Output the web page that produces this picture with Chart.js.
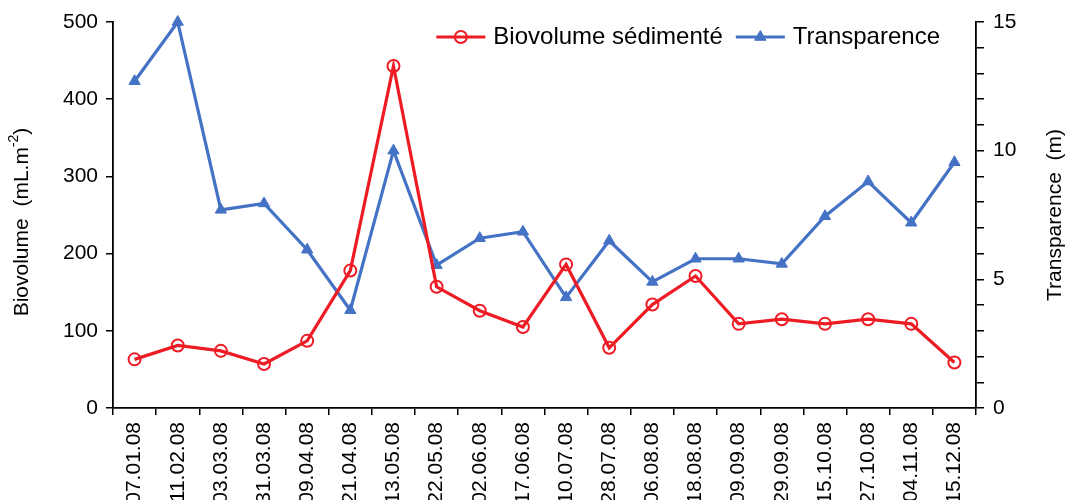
<!DOCTYPE html>
<html>
<head>
<meta charset="utf-8">
<script src="https://cdn.jsdelivr.net/npm/chart.js@4.4.1/dist/chart.umd.min.js"></script>
<style>
  html, body { margin: 0; padding: 0; background: #ffffff; }
  #wrap { width: 1069px; height: 500px; }
</style>
</head>
<body>
<div id="wrap"><canvas id="chart" width="1069" height="500"></canvas></div>
<script>
// Sampling dates (dd.mm.yy)
const dates = ['07.01.08', '11.02.08', '03.03.08', '31.03.08', '09.04.08', '21.04.08', '13.05.08',
  '22.05.08', '02.06.08', '17.06.08', '10.07.08', '28.07.08', '06.08.08', '18.08.08', '09.09.08',
  '29.09.08', '15.10.08', '27.10.08', '04.11.08', '15.12.08'];

// Settled biovolume (mL.m-2)
const biovolume = [63, 81, 74, 57, 87, 178, 443, 157, 126, 105, 186, 78, 134, 171, 109, 115, 109, 115, 109, 59];

// Water transparency (m)
const transparence = [12.7, 15, 7.7, 7.95, 6.15, 3.8, 10, 5.55, 6.6, 6.85, 4.3, 6.5, 4.9, 5.8, 5.8, 5.6, 7.45, 8.8, 7.2, 9.55];

// Axis ticks
const biovolumeTicks = [0, 100, 200, 300, 400, 500];
const transparenceMinorTicks = [0, 1, 2, 3, 4, 5, 6, 7, 8, 9, 10, 11, 12, 13, 14, 15];
const transparenceLabels = [0, 5, 10, 15];

const seriesNames = ['Biovolume sédimenté', 'Transparence'];
const axisTitles = { left: 'Biovolume  (mL.m', leftSup: '-2', leftEnd: ')', right: 'Transparence  (m)' };

const RED = '#ED1C24';
const BLUE = '#4472C4';
const FONT = '"Liberation Sans", Arial, Helvetica, sans-serif';

Chart.defaults.font.family = FONT;
Chart.defaults.color = '#000000';

// Axis titles (rotated, reading bottom-to-top) and the legend inside the plot
const decorations = {
  id: 'decorations',
  afterDraw(chart) {
    const ctx = chart.ctx;
    const area = chart.chartArea;
    const midY = (area.top + area.bottom) / 2;

    // Left axis title with superscript exponent
    ctx.save();
    ctx.fillStyle = '#000';
    ctx.textBaseline = 'middle';
    const mainFont = '21px ' + FONT;
    const supFont = '14px ' + FONT;
    ctx.font = mainFont;
    const w1 = ctx.measureText(axisTitles.left).width;
    const w3 = ctx.measureText(axisTitles.leftEnd).width;
    ctx.font = supFont;
    const w2 = ctx.measureText(axisTitles.leftSup).width;
    const total = w1 + w2 + w3;
    ctx.translate(22, midY + 7);
    ctx.rotate(-Math.PI / 2);
    let x = -total / 2;
    ctx.textAlign = 'left';
    ctx.font = mainFont;
    ctx.fillText(axisTitles.left, x, 0);
    x += w1;
    ctx.font = supFont;
    ctx.fillText(axisTitles.leftSup, x, -8);
    x += w2;
    ctx.font = mainFont;
    ctx.fillText(axisTitles.leftEnd, x, 0);
    ctx.restore();

    // Right axis title
    ctx.save();
    ctx.fillStyle = '#000';
    ctx.font = mainFont;
    ctx.textAlign = 'center';
    ctx.textBaseline = 'middle';
    ctx.translate(1055, midY);
    ctx.rotate(-Math.PI / 2);
    ctx.fillText(axisTitles.right, 0, 0);
    ctx.restore();

    // Legend: line sample + marker + label for each series
    ctx.save();
    ctx.font = '24px ' + FONT;
    ctx.textBaseline = 'middle';
    ctx.textAlign = 'left';
    const y = area.top + 15;
    const sampleW = 49;
    const gap = 8;
    const itemGap = 13;
    const widths = seriesNames.map(n => ctx.measureText(n).width);
    const totalW = widths.reduce((a, b) => a + b, 0) + 2 * (sampleW + gap) + itemGap;
    let lx = area.right - 36 - totalW;
    chart.data.datasets.forEach((ds, i) => {
      ctx.strokeStyle = ds.borderColor;
      ctx.lineWidth = ds.borderWidth;
      ctx.beginPath();
      ctx.moveTo(lx, y);
      ctx.lineTo(lx + sampleW, y);
      ctx.stroke();
      ctx.fillStyle = ds.pointBackgroundColor;
      ctx.strokeStyle = ds.pointBorderColor;
      ctx.lineWidth = ds.pointBorderWidth;
      Chart.helpers.drawPoint(ctx, {
        pointStyle: ds.pointStyle,
        radius: ds.pointRadius,
        borderWidth: ds.pointBorderWidth,
        rotation: 0
      }, lx + sampleW / 2, y);
      lx += sampleW + gap;
      ctx.fillStyle = '#000';
      ctx.fillText(seriesNames[i], lx, y);
      lx += widths[i] + itemGap;
    });
    ctx.restore();
  }
};

new Chart(document.getElementById('chart'), {
  type: 'line',
  data: {
    labels: dates,
    datasets: [
      {
        label: seriesNames[0],
        data: biovolume,
        yAxisID: 'y',
        borderColor: RED,
        borderWidth: 3.2,
        pointStyle: 'circle',
        pointRadius: 6,
        pointBorderWidth: 2,
        pointBorderColor: RED,
        pointBackgroundColor: 'rgba(255,255,255,0)',
        tension: 0,
        clip: false
      },
      {
        label: seriesNames[1],
        data: transparence,
        yAxisID: 'y1',
        borderColor: BLUE,
        borderWidth: 3.2,
        pointStyle: 'triangle',
        pointRadius: 6.5,
        pointBorderWidth: 1,
        pointBorderColor: BLUE,
        pointBackgroundColor: BLUE,
        tension: 0,
        clip: false
      }
    ]
  },
  options: {
    responsive: false,
    animation: false,
    devicePixelRatio: 1,
    layout: { padding: { top: 22, left: 0, right: 0, bottom: 0 } },
    plugins: {
      legend: { display: false },
      tooltip: { enabled: false }
    },
    scales: {
      x: {
        type: 'category',
        offset: true,
        grid: {
          display: true,
          drawOnChartArea: false,
          drawTicks: true,
          tickLength: 7,
          color: '#000',
          lineWidth: 1.5,
          offset: true
        },
        border: { display: true, color: '#000', width: 1.8 },
        ticks: {
          autoSkip: false,
          minRotation: 90,
          maxRotation: 90,
          padding: 7,
          font: { size: 21 },
          color: '#000'
        },
        afterFit(scale) { scale.height = 92; }
      },
      y: {
        position: 'left',
        min: 0,
        max: 500,
        afterBuildTicks(scale) { scale.ticks = biovolumeTicks.map(v => ({ value: v })); },
        grid: {
          drawOnChartArea: false,
          drawTicks: true,
          tickLength: 7,
          color: '#000',
          lineWidth: 1.5
        },
        border: { display: true, color: '#000', width: 1.8 },
        ticks: { autoSkip: false, padding: 8, font: { size: 21 }, color: '#000' },
        afterFit(scale) { scale.width = 113; }
      },
      y1: {
        position: 'right',
        min: 0,
        max: 15,
        afterBuildTicks(scale) { scale.ticks = transparenceMinorTicks.map(v => ({ value: v })); },
        grid: {
          drawOnChartArea: false,
          drawTicks: true,
          tickLength: 8,
          color: '#000',
          lineWidth: 1.5
        },
        border: { display: true, color: '#000', width: 1.8 },
        ticks: {
          autoSkip: false,
          padding: 9,
          font: { size: 21 },
          color: '#000',
          callback: v => (transparenceLabels.includes(v) ? String(v) : '')
        },
        afterFit(scale) { scale.width = 93; }
      }
    }
  },
  plugins: [decorations]
});
</script>
</body>
</html>
